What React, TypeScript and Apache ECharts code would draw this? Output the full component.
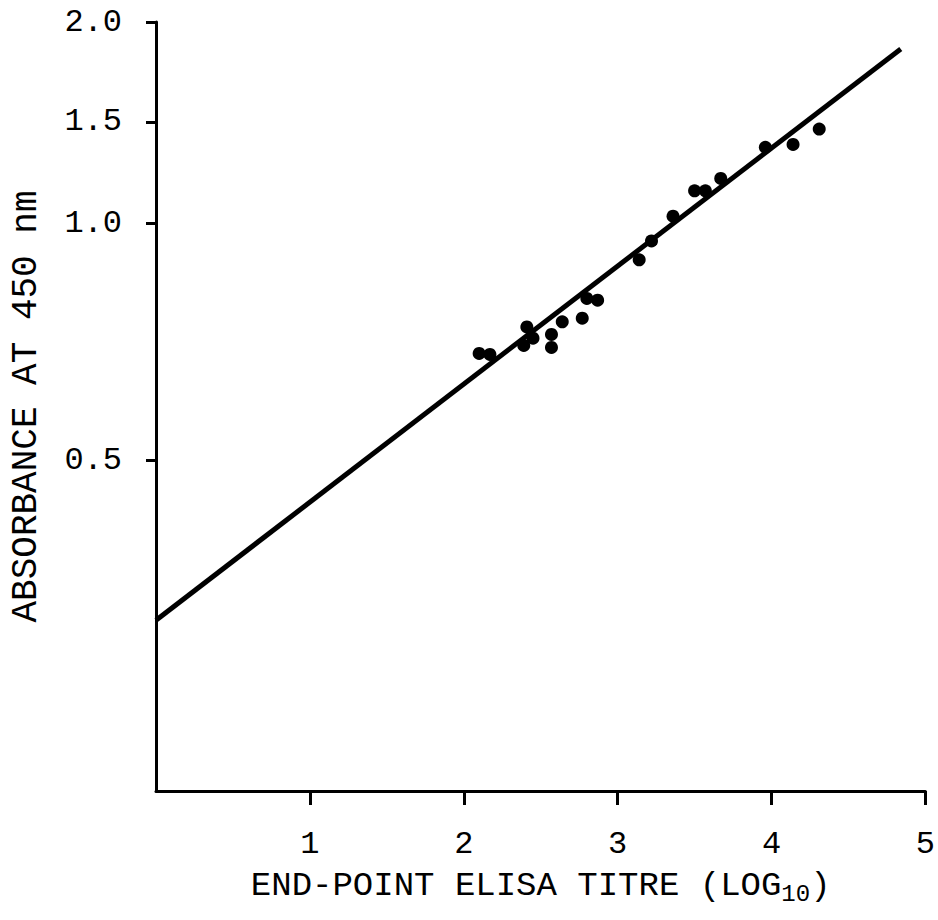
import React, { useEffect, useRef } from "react";
import * as echarts from "echarts";

// Measured data (end-point ELISA titre, log10) and absorbance at 450 nm
const titre = [2.10, 2.17, 2.39, 2.41, 2.45, 2.57, 2.57, 2.64, 2.77, 2.80, 2.87, 3.14, 3.22, 3.36, 3.50, 3.57, 3.67, 3.96, 4.14, 4.31];
const absorbance = [0.683, 0.681, 0.699, 0.738, 0.714, 0.722, 0.695, 0.749, 0.757, 0.802, 0.798, 0.898, 0.949, 1.028, 1.138, 1.138, 1.196, 1.355, 1.371, 1.458];

// Regression line end points
const fitTitre = [0, 4.84];
const fitAbsorbance = [0.313, 1.851];

// Axis ticks
const xTicks = [1, 2, 3, 4, 5];
const yTickLabels = [0.5, 1.0, 1.5, 2.0];
// Calibration of the original (non-uniform) absorbance scale, in axis units 0..100
const yScaleUnits = [43.04, 73.86, 87.0, 100];

const LOGS = yTickLabels.map((v) => Math.log10(v));

function seg(l: number) {
  if (l <= LOGS[1]) return 0;
  if (l <= LOGS[2]) return 1;
  return 2;
}
function toAxis(a: number): number {
  const l = Math.log10(a);
  const i = seg(l);
  const t = (l - LOGS[i]) / (LOGS[i + 1] - LOGS[i]);
  return yScaleUnits[i] + t * (yScaleUnits[i + 1] - yScaleUnits[i]);
}
function fromAxis(u: number): number {
  let i = 0;
  if (u > yScaleUnits[1]) i = 1;
  if (u > yScaleUnits[2]) i = 2;
  const t = (u - yScaleUnits[i]) / (yScaleUnits[i + 1] - yScaleUnits[i]);
  return Math.pow(10, LOGS[i] + t * (LOGS[i + 1] - LOGS[i]));
}

const FONT = "Liberation Mono";

export default function App() {
  const ref = useRef<HTMLDivElement>(null);
  useEffect(() => {
    if (!ref.current) return;
    const chart = echarts.init(ref.current, undefined, { renderer: "svg" });
    const yTickUnits = yTickLabels.map(toAxis);
    chart.setOption({
      animation: false,
      backgroundColor: "#fff",
      grid: { left: 154, right: 10, top: 22, bottom: 129 },
      xAxis: {
        type: "value",
        min: 0,
        max: 5,
        name: "{m|END-POINT ELISA TITRE (LOG}{s|10}{m|)}",
        nameLocation: "middle",
        nameGap: 70,
        nameTextStyle: {
          rich: {
            m: { fontFamily: FONT, fontSize: 34, color: "#000", lineHeight: 42 },
            s: { fontFamily: FONT, fontSize: 24, color: "#000", lineHeight: 24, padding: [18, 0, 0, 0] },
          },
        },
        axisLine: { show: true, lineStyle: { color: "#000", width: 3 } },
        axisTick: { show: true, inside: false, length: 14, customValues: xTicks, lineStyle: { color: "#000", width: 3 } },
        axisLabel: { customValues: xTicks, fontFamily: FONT, fontSize: 32, color: "#000", margin: 37 },
        splitLine: { show: false },
      },
      yAxis: {
        type: "value",
        min: 0,
        max: 100,
        name: "ABSORBANCE AT 450 nm",
        nameLocation: "middle",
        nameGap: 112,
        nameRotate: 90,
        nameTextStyle: { fontFamily: FONT, fontSize: 36, color: "#000" },
        axisLine: { show: true, lineStyle: { color: "#000", width: 3 } },
        axisTick: { show: true, inside: false, length: 10, customValues: yTickUnits, lineStyle: { color: "#000", width: 3 } },
        axisLabel: {
          customValues: yTickUnits,
          formatter: (v: number) => fromAxis(v).toFixed(1),
          fontFamily: FONT,
          fontSize: 32,
          color: "#000",
          margin: 34,
        },
        splitLine: { show: false },
      },
      series: [
        {
          type: "line",
          data: fitTitre.map((x, i) => [x, toAxis(fitAbsorbance[i])]),
          symbol: "none",
          lineStyle: { color: "#000", width: 5 },
          z: 2,
        },
        {
          type: "scatter",
          data: titre.map((x, i) => [x, toAxis(absorbance[i])]),
          symbol: "circle",
          symbolSize: 13,
          itemStyle: { color: "#000", opacity: 1 },
          z: 3,
        },
      ],
    });
    return () => chart.dispose();
  }, []);
  return <div ref={ref} style={{ position: "fixed", left: 0, top: 0, width: 938, height: 920 }} />;
}
